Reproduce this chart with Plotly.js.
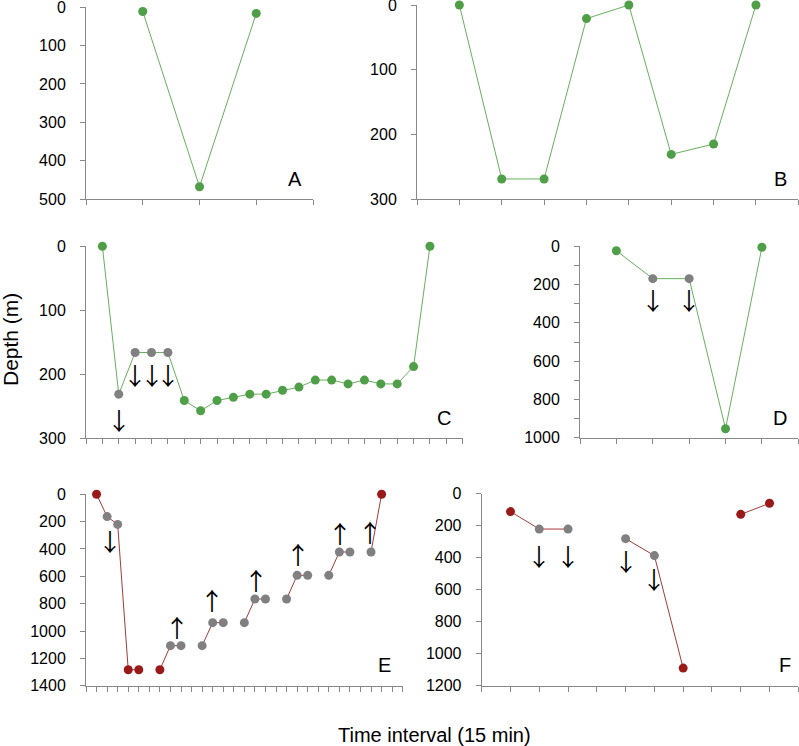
<!DOCTYPE html>
<html>
<head>
<meta charset="utf-8">
<script src="https://cdn.plot.ly/plotly-3.0.1.min.js"></script>
<style>html,body{margin:0;padding:0;background:#fff}#chart{width:799px;height:746px}</style>
</head>
<body>
<div id="chart"></div>
<script>
// ---- Data (depth in m, x = time interval index) ----
const A_x = [1, 2, 3];
const A_depth = [11, 468, 16];

const B_x = [1, 2, 3, 4, 5, 6, 7, 8];
const B_depth = [0, 269, 269, 21, 0, 231, 215, 0];

const C_x = [1,2,3,4,5,6,7,8,9,10,11,12,13,14,15,16,17,18,19,20,21];
const C_depth = [0,231,166,166,166,241,257,241,236,231,231,225,220,209,209,215,209,215,215,188,0];
const C_type = ['n','g','g','g','g','n','n','n','n','n','n','n','n','n','n','n','n','n','n','n','n'];

const D_x = [1, 2, 3, 4, 5];
const D_depth = [23, 169, 169, 953, 5];
const D_type = ['n','g','g','n','n'];

const E_x = [1,2,3,4,5,6,7,8,9,10,11,12,13,14,15,16,17,18,19,20,21,22,23,24,25,26,27,28];
const E_depth = [0,163,220,1283,1283,null,1283,1107,1107,null,1107,939,939,null,939,766,766,null,766,593,593,null,593,422,422,null,422,0];
const E_type = ['r','g','g','r','r','r','r','g','g','g','g','g','g','g','g','g','g','g','g','g','g','g','g','g','g','g','g','r'];

const F_x = [1,2,3,4,5,6,7,8,9,10];
const F_depth = [112,221,221,null,281,387,1090,null,129,60];
const F_type = ['r','g','g','r','g','g','r','r','r','r'];

// arrows (direction symbols) positions
const C_arrow_x = [2, 3, 4, 5];
const C_arrow_y = [270, 201, 201, 201];
const C_arrow = ['↓','↓','↓','↓'];
const D_arrow_x = [2, 3];
const D_arrow_y = [280, 280];
const D_arrow = ['↓','↓'];
const E_arrow_x = [2.27, 8.59, 11.97, 16.07, 20.1, 24.06, 26.9];
const E_arrow_y = [337, 968, 766, 620, 432, 280, 273];
const E_arrow = ['↓','↑','↑','↑','↑','↑','↑'];
const F_arrow_x = [2, 3, 5, 6];
const F_arrow_y = [385, 385, 417, 531];
const F_arrow = ['↓','↓','↓','↓'];

const panelLabels = ['A','B','C','D','E','F'];
const yTitle = 'Depth (m)';
const xTitle = 'Time interval (15 min)';

// ---- Styling ----
const W = 799, H = 746;
const GREEN = '#4e9f47', GREEN_LINE = '#66b05c';
const RED = '#9a1a1a', RED_LINE = '#a53a3a';
const GRAY = '#808080';
const FONT = 'Liberation Sans, Arial, sans-serif';
const ARROW_FONT = 'Noto Sans CJK JP, Noto Sans CJK SC, sans-serif';
const colorMap = {n: GREEN, g: GRAY, r: RED};

// panel boxes in pixels: [left, right, top, bottom], x max ticks, y max, y dtick
const panels = [
  {box:[86,313,7.3,199], nx:4, ymax:500, dtick:100},
  {box:[417,798.3,5,199], nx:9, ymax:300, dtick:100},
  {box:[86,462.7,246.3,438.3], nx:23, ymax:300, dtick:100},
  {box:[580,798.3,246.3,437.7], nx:6, ymax:1000, dtick:200, minor:100},
  {box:[86,402.7,494.3,685.7], nx:30, ymax:1400, dtick:200},
  {box:[481.7,798.3,493.7,685.7], nx:11, ymax:1200, dtick:200}
];
const labelPos = [[295,179],[780,179],[444,418],[780,418],[384,665],[785,665]];

const layout = {
  width: W, height: H,
  margin: {l:0, r:0, t:0, b:0},
  paper_bgcolor: '#fff', plot_bgcolor: 'rgba(0,0,0,0)',
  showlegend: false,
  font: {family: FONT, color: '#000', size: 16},
  annotations: []
};

panels.forEach((p, i) => {
  const n = i === 0 ? '' : String(i + 1);
  const ticks = [];
  for (let k = 0; k <= p.nx; k++) ticks.push(k);
  layout['xaxis' + n] = {
    domain: [p.box[0] / W, p.box[1] / W],
    anchor: 'y' + n,
    range: [0, p.nx],
    tickmode: 'array', tickvals: ticks, showticklabels: false,
    ticks: 'outside', ticklen: 5, tickwidth: 1, tickcolor: '#888',
    showline: true, linecolor: '#888', linewidth: 1,
    showgrid: false, zeroline: false, fixedrange: true
  };
  const ya = {
    domain: [1 - p.box[3] / H, 1 - p.box[2] / H],
    anchor: 'x' + n,
    range: [p.ymax, 0],
    tickmode: 'linear', tick0: 0, dtick: p.dtick,
    ticks: 'outside', ticklen: 5, tickwidth: 1, tickcolor: '#888',
    ticklabelstandoff: 11,
    ticklabeloverflow: 'allow',
    tickfont: {family: FONT, size: 16, color: '#000'},
    showline: true, linecolor: '#888', linewidth: 1,
    showgrid: false, zeroline: false, fixedrange: true
  };
  if (p.minor) ya.minor = {dtick: p.minor, tick0: 0, ticks: 'outside', ticklen: 5, tickcolor: '#888', showgrid: false};
  layout['yaxis' + n] = ya;
  layout.annotations.push({
    xref: 'paper', yref: 'paper', x: labelPos[i][0] / W, y: 1 - labelPos[i][1] / H,
    xanchor: 'center', yanchor: 'middle', showarrow: false,
    text: panelLabels[i], font: {family: FONT, size: 20, color: '#000'}
  });
});

function trace(x, y, types, axisN, lineColor) {
  const n = axisN === 1 ? '' : String(axisN);
  return {
    x: x, y: y, type: 'scatter', mode: 'lines+markers',
    xaxis: 'x' + n, yaxis: 'y' + n,
    line: {color: lineColor, width: 1},
    marker: {size: 9, color: types.map(t => colorMap[t])},
    connectgaps: false, cliponaxis: false, hoverinfo: 'skip'
  };
}

const data = [
  trace(A_x, A_depth, A_x.map(() => 'n'), 1, GREEN_LINE),
  trace(B_x, B_depth, B_x.map(() => 'n'), 2, GREEN_LINE),
  trace(C_x, C_depth, C_type, 3, GREEN_LINE),
  trace(D_x, D_depth, D_type, 4, GREEN_LINE),
  trace(E_x, E_depth, E_type, 5, RED_LINE),
  trace(F_x, F_depth, F_type, 6, RED_LINE)
];

function addArrows(xs, ys, syms, axisN) {
  const n = axisN === 1 ? '' : String(axisN);
  xs.forEach((x, k) => {
    layout.annotations.push({
      xref: 'x' + n, yref: 'y' + n, x: x, y: ys[k],
      xanchor: 'center', yanchor: 'middle', showarrow: false,
      text: syms[k], font: {family: ARROW_FONT, size: 24, color: '#000'}
    });
  });
}
addArrows(C_arrow_x, C_arrow_y, C_arrow, 3);
addArrows(D_arrow_x, D_arrow_y, D_arrow, 4);
addArrows(E_arrow_x, E_arrow_y, E_arrow, 5);
addArrows(F_arrow_x, F_arrow_y, F_arrow, 6);

// axis titles
layout.annotations.push({
  xref: 'paper', yref: 'paper', x: 10 / W, y: 1 - 340 / H,
  xanchor: 'center', yanchor: 'middle', showarrow: false, textangle: -90,
  text: yTitle, font: {family: FONT, size: 21, color: '#000'}
});
layout.annotations.push({
  xref: 'paper', yref: 'paper', x: 434 / W, y: 1 - 735 / H,
  xanchor: 'center', yanchor: 'middle', showarrow: false,
  text: xTitle, font: {family: FONT, size: 20, color: '#000'}
});

Plotly.newPlot('chart', data, layout, {displayModeBar: false, staticPlot: true});
</script>
</body>
</html>
